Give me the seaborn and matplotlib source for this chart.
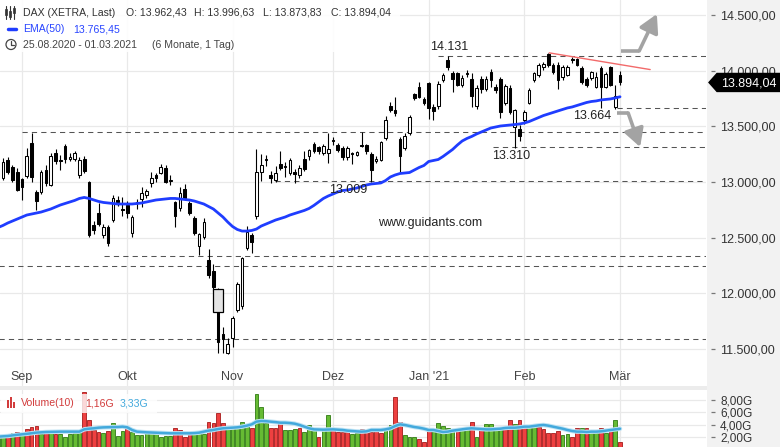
import numpy as np
import matplotlib
matplotlib.use("Agg")
import matplotlib.pyplot as plt
import matplotlib.patheffects as pe
import seaborn as sns
from matplotlib.patches import Rectangle, Polygon, Circle
from matplotlib.transforms import blended_transform_factory

# ---------------- data ----------------
opens = [13040, 13040, 13195, 13135, 13090, 13027, 13054, 13350, 12910, 12910,
         13110, 12973, 13260, 13200, 13323, 13205, 13207, 13063, 13207, 13000,
         12612, 12720, 12524, 12595, 12658, 12840, 12760, 12793, 12540, 12815,
         12850, 12880, 12991, 13063, 13081, 13126, 13010, 12820, 12770, 12935,
         12810, 12675, 12425, 12505, 12300, 12200, 12030, 11630, 11465, 11600,
         11850, 11886, 12410, 12524, 12694, 13090, 13200, 13063, 13018, 13165,
         13140, 13081, 13090, 13063, 13207, 13233, 13341, 13310, 13260, 13260,
         13377, 13332, 13305, 13224, 13260, 13242, 13330, 13332, 13251, 13190,
         13197, 13395, 13683, 13647, 13386, 13305, 13440, 13790, 13853, 13745,
         13890, 13675, 13683, 13916, 14096, 13980, 13980, 13871, 13980, 13925,
         13683, 13925, 13835, 13988, 13853, 13925, 13710, 13845, 13494, 13476,
         13557, 13710, 13916, 13961, 14033, 14150, 14051, 14051, 13940, 13961,
         14100, 14105, 14024, 13925, 13935, 13853, 14024, 13853, 14033, 13675,
         13962.43]
highs = [13150, 13215, 13225, 13152, 13130, 13040, 13305, 13440, 12930, 13110,
         13150, 13260, 13300, 13240, 13340, 13260, 13280, 13220, 13230, 13010,
         12650, 12810, 12620, 12610, 12880, 12870, 12865, 12830, 12700, 12845,
         12955, 12940, 13090, 13080, 13160, 13150, 13060, 12830, 12955, 12980,
         12830, 12690, 12540, 12680, 12400, 12260, 12045, 11700, 11600, 11800,
         12100, 12330, 12600, 12545, 13300, 13250, 13240, 13100, 13140, 13275,
         13180, 13215, 13120, 13150, 13280, 13300, 13360, 13325, 13340, 13440,
         13400, 13350, 13320, 13320, 13270, 13280, 13445, 13340, 13270, 13230,
         13370, 13593, 13720, 13765, 13400, 13440, 13600, 13800, 13900, 13760,
         13900, 13700, 13910, 13980, 14131, 14000, 13990, 13960, 14010, 13980,
         13870, 13950, 13950, 14015, 13880, 13945, 13880, 13870, 13660, 13510,
         13650, 13840, 13990, 14070, 14080, 14160, 14070, 14080, 14050, 14050,
         14125, 14110, 14040, 13940, 14000, 13990, 14040, 13985, 14045, 13870,
         13996.63]
lows = [13010, 13020, 13070, 13000, 12915, 12840, 13040, 13000, 12750, 12895,
        12960, 12960, 13160, 13110, 13170, 13190, 13190, 13040, 13080, 12505,
        12530, 12600, 12500, 12425, 12640, 12780, 12690, 12680, 12510, 12760,
        12775, 12860, 12955, 13000, 13070, 12990, 12970, 12595, 12740, 12840,
        12700, 12520, 12340, 12490, 12140, 12020, 11460, 11465, 11450, 11520,
        11830, 11860, 12390, 12362, 12670, 13010, 13140, 12990, 13000, 13110,
        13045, 13060, 12990, 13040, 13100, 13200, 13260, 13255, 13240, 13170,
        13330, 13270, 13200, 13200, 13160, 13230, 13310, 13250, 13000, 13170,
        13190, 13380, 13630, 13590, 13090, 13290, 13420, 13735, 13750, 13690,
        13565, 13557, 13660, 13900, 14010, 13810, 13860, 13850, 13940, 13675,
        13660, 13800, 13820, 13853, 13800, 13575, 13690, 13610, 13305, 13370,
        13520, 13700, 13900, 13940, 14010, 14030, 13970, 13835, 13920, 13950,
        14070, 14040, 13880, 13850, 13920, 13840, 13664, 13840, 13860, 13660,
        13873.83]
closes = [13120, 13180, 13090, 13018, 12930, 12955, 13233, 13045, 12830, 13090,
          12990, 13233, 13188, 13190, 13207, 13225, 13260, 13197, 13100, 12524,
          12568, 12620, 12595, 12452, 12856, 12820, 12750, 12721, 12685, 12820,
          12905, 12920, 13036, 13036, 13135, 13000, 13020, 12695, 12900, 12855,
          12720, 12540, 12530, 12640, 12165, 12060, 11560, 11590, 11545, 11780,
          12083, 12317, 12550, 12460, 13090, 13152, 13207, 13036, 13081, 13130,
          13135, 13197, 13072, 13126, 13117, 13287, 13278, 13280, 13323, 13295,
          13370, 13287, 13224, 13305, 13250, 13269, 13325, 13278, 13108, 13210,
          13359, 13557, 13647, 13620, 13233, 13413, 13584, 13755, 13764, 13710,
          13665, 13640, 13880, 13961, 14033, 13925, 13870, 13935, 13970, 13772,
          13845, 13835, 13925, 13916, 13826, 13630, 13860, 13630, 13647, 13413,
          13630, 13826, 13980, 14051, 14060, 14051, 13988, 13916, 14030, 14030,
          14095, 14051, 13898, 13870, 13990, 13940, 13853, 13970, 13871, 13772,
          13894.04]
ema50 = [12591, 12609, 12631, 12649, 12667, 12685, 12703, 12712, 12721, 12730,
         12744, 12757, 12775, 12793, 12807, 12820, 12834, 12852, 12861, 12852,
         12838, 12825, 12816, 12811, 12807, 12802, 12802, 12802, 12802, 12807,
         12811, 12820, 12829, 12838, 12843, 12847, 12852, 12852, 12847, 12843,
         12838, 12829, 12816, 12802, 12780, 12757, 12721, 12685, 12640, 12600,
         12573, 12559, 12559, 12564, 12577, 12604, 12622, 12640, 12658, 12672,
         12685, 12703, 12717, 12730, 12744, 12762, 12789, 12820, 12852, 12874,
         12892, 12910, 12923, 12928, 12937, 12946, 12959, 12973, 12982, 12986,
         12991, 13013, 13045, 13063, 13076, 13081, 13085, 13108, 13130, 13148,
         13184, 13193, 13202, 13229, 13260, 13292, 13332, 13368, 13391, 13409,
         13431, 13449, 13467, 13485, 13494, 13503, 13507, 13512, 13516, 13521,
         13530, 13543, 13561, 13579, 13597, 13611, 13624, 13638, 13651, 13665,
         13674, 13687, 13701, 13714, 13723, 13728, 13737, 13741, 13746, 13755,
         13765.45]
volume = [2.30, 2.32, 2.48, 2.69, 2.85, 2.59, 3.24, 3.56, 3.78, 2.43,
          3.13, 2.69, 2.43, 2.43, 1.94, 2.43, 2.59, 2.69, 9.24, 4.75,
          3.13, 2.85, 2.59, 2.97, 4.21, 2.16, 3.01, 3.66, 2.85, 2.32,
          2.32, 2.69, 2.69, 2.48, 2.04, 2.16, 2.16, 3.50, 3.13, 2.04,
          2.43, 2.59, 2.59, 2.48, 4.47, 4.31, 5.83, 4.31, 3.56, 3.50,
          3.66, 4.47, 4.05, 3.40, 8.96, 6.90, 4.31, 3.50, 3.50, 4.21,
          3.13, 3.13, 3.24, 3.50, 2.85, 3.94, 3.40, 2.04, 3.13, 5.56,
          3.40, 2.75, 2.85, 2.85, 2.43, 2.59, 3.24, 3.13, 2.85, 3.40,
          2.69, 3.24, 3.94, 8.53, 4.47, 2.32, 1.94, 1.94, 1.62, 1.23,
          3.40, 3.24, 4.21, 3.78, 3.40, 3.24, 3.13, 3.40, 3.50, 4.37,
          1.94, 3.50, 4.10, 4.10, 3.66, 3.56, 3.66, 4.75, 4.10, 4.75,
          3.94, 3.66, 3.78, 3.66, 3.24, 2.69, 2.59, 2.97, 2.32, 2.48,
          1.94, 3.40, 3.40, 3.40, 2.85, 2.59, 3.50, 2.69, 3.50, 4.75,
          1.16]
volume_up = [1, 1, 0, 1, 0, 1, 0, 0, 0, 1,
             0, 1, 0, 1, 1, 1, 1, 1, 0, 0,
             0, 0, 1, 0, 1, 1, 1, 0, 1, 1,
             1, 1, 1, 1, 1, 1, 1, 0, 0, 0,
             0, 1, 1, 1, 0, 0, 0, 0, 1, 1,
             1, 1, 1, 0, 1, 1, 1, 0, 0, 0,
             1, 1, 1, 0, 1, 1, 1, 0, 1, 1,
             0, 0, 0, 0, 1, 1, 0, 0, 0, 0,
             0, 1, 1, 0, 0, 1, 1, 1, 0, 0,
             0, 1, 1, 1, 1, 1, 0, 1, 1, 0,
             1, 0, 1, 1, 1, 1, 0, 0, 1, 0,
             0, 1, 1, 0, 0, 0, 0, 0, 1, 1,
             0, 0, 1, 0, 1, 1, 0, 1, 0, 1,
             0]
volume_ma10 = [2.05, 2.10, 2.15, 2.25, 2.35, 2.42, 2.50, 2.60, 2.70, 2.75,
               2.80, 2.82, 2.84, 2.86, 2.86, 2.86, 2.86, 2.86, 3.23, 3.34,
               3.40, 3.50, 3.55, 3.58, 3.60, 3.61, 3.67, 3.56, 3.13, 2.86,
               2.80, 2.75, 2.72, 2.69, 2.65, 2.62, 2.59, 2.59, 2.59, 2.59,
               2.59, 2.62, 2.69, 2.86, 3.02, 3.13, 3.29, 3.40, 3.45, 3.50,
               3.56, 3.67, 3.83, 4.04, 4.48, 4.59, 4.55, 4.48, 4.40, 4.31,
               4.31, 4.25, 4.15, 3.94, 3.67, 3.40, 3.23, 3.20, 3.18, 3.20,
               3.23, 3.18, 3.13, 3.02, 2.96, 2.90, 2.86, 2.91, 3.13, 3.13,
               3.13, 3.23, 3.40, 3.77, 4.04, 3.94, 3.77, 3.61, 3.50, 3.34,
               3.13, 3.13, 2.96, 2.80, 2.86, 3.02, 3.13, 3.23, 3.34, 3.40,
               3.34, 3.29, 3.23, 3.23, 3.29, 3.34, 3.45, 3.50, 3.50, 3.56,
               3.67, 3.67, 3.77, 3.88, 3.94, 3.83, 3.67, 3.50, 3.34, 3.13,
               2.96, 2.86, 2.86, 2.80, 2.86, 2.86, 2.91, 3.02, 3.13, 3.23,
               3.33]

month_labels = ["Sep", "Okt", "Nov", "Dez", "Jan '21", "Feb", "Mär"]
month_pos = [5, 27, 49, 70, 90, 110, 130]
price_ticks = [11500, 12000, 12500, 13000, 13500, 14000, 14500]
volume_ticks = [2, 4, 6, 8]

# horizontal support / resistance levels and the bar index they start at
level_values = [14131, 13664, 13445, 13310, 13009, 12335, 12245, 11589]
level_start = [92.0, 129.4, 5.0, 103.4, 57.9, 22.1, 0.0, 0.0]
# labelled levels: text, x index, vertical offset (points)
label_texts = ["14.131", "13.664", "13.310", "13.009"]
label_levels = [14131, 13664, 13310, 13009]
label_x = [94.3, 124.1, 107.2, 73.2]
label_dy = [6.5, -6.0, -6.0, -6.5]

# red trend line (index, price)
trend_x = [115.2, 136.3]
trend_y = [14160, 14010]
# gray scenario arrows (index, price)
up_arrow_x = [130.2, 134.0, 137.7]
up_arrow_y = [14177, 14177, 14509]
down_arrow_x = [129.4, 131.7, 134.2]
down_arrow_y = [13620, 13620, 13314]
# marked box around 28 Oct
box_x = [45.0, 47.1]
box_y = [11832, 12038]


def de(v, nd=2):
    s = f"{v:,.{nd}f}"
    return s.replace(",", "X").replace(".", ",").replace("X", ".")


# ---------------- figure ----------------
sns.set_theme(style="white")
plt.rcParams['font.family'] = ['Liberation Sans', 'DejaVu Sans']

W, H = 780, 447
fig = plt.figure(figsize=(7.8, 4.47), dpi=100)
fig.patch.set_facecolor('white')

# gray right price panel & separator band
fig.add_artist(Rectangle((707 / W, 0), 1 - 707 / W, 1, transform=fig.transFigure,
                         fc='#f2f2f2', ec='none', zorder=-5))
fig.add_artist(Rectangle((0, 1 - 390 / H), 707 / W, 4 / H, transform=fig.transFigure,
                         fc='#ececec', ec='none', zorder=-5))

ax = fig.add_axes([0, 1 - 386 / H, 706 / W, 386 / H])
axv = fig.add_axes([0, 0, 706 / W, 57 / H])

xlim = (0.397, 147.97)
idx = np.arange(len(closes))
o = np.array(opens); h = np.array(highs); l = np.array(lows); c = np.array(closes)

for a in (ax, axv):
    a.set_facecolor('white')
    a.set_xlim(*xlim)
    for s in a.spines.values():
        s.set_visible(False)
    a.spines['right'].set_position(('outward', 3.6))
    a.yaxis.tick_right()
    a.set_xticks(month_pos)
    a.tick_params(axis='x', length=0, labelbottom=False)
    a.tick_params(axis='y', which='major', right=True, length=3, width=0.9,
                  color='#777', pad=3.6, labelcolor='#333', labelsize=9)
    a.grid(True, color='#e9e9e9', lw=0.9, zorder=0)
    a.set_axisbelow(True)

ax.set_ylim(14635 - 8.985 * 386, 14635)
ax.set_yticks(price_ticks)
ax.set_yticklabels([de(v) for v in price_ticks])

# month labels
tr = blended_transform_factory(ax.transData, ax.transAxes)
for m, p in zip(month_labels, month_pos):
    ax.text(p, 0.0233, m, transform=tr, ha='center', va='center', fontsize=9,
            color='#444', zorder=6)

# dashed levels
for v, s in zip(level_values, level_start):
    ax.hlines(v, s, xlim[1], colors='#555555', linestyles=(0, (5, 4)), lw=0.75, zorder=1)

for t, v, x, dy in zip(label_texts, label_levels, label_x, label_dy):
    ax.annotate(t, xy=(x, v), xytext=(0, dy), textcoords='offset points', ha='center',
                va='center', fontsize=9, color='#222', zorder=7)

# candles
ax.vlines(idx, l, h, color='black', lw=0.8, zorder=3)
body_lo = np.minimum(o, c)
body_h = np.maximum(np.abs(c - o), 9)
fills = np.where(c >= o, 'white', 'black')
ax.bar(idx, body_h, bottom=body_lo, width=0.55, color=fills, edgecolor='black',
       linewidth=0.75, zorder=4)

# marked box
ax.add_patch(Rectangle((box_x[0], box_y[0]), box_x[1] - box_x[0], box_y[1] - box_y[0],
                       fc='#e4e4e4', ec='black', lw=0.9, zorder=4.5))

# EMA 50
sns.lineplot(x=idx, y=ema50, ax=ax, color='#1f3dff', lw=2.0, zorder=5, legend=False)

# red trend line
ax.plot(trend_x, trend_y, color='#f26a6a', lw=1.0, zorder=5)

# gray arrows
arrow_col = '#a3a3a3'
for xs, ys in ((up_arrow_x, up_arrow_y), (down_arrow_x, down_arrow_y)):
    ax.plot(xs[:2], ys[:2], color=arrow_col, lw=2.6, solid_capstyle='butt', zorder=5)
    ax.annotate('', xy=(xs[2], ys[2]), xytext=(xs[1], ys[1]),
                arrowprops=dict(arrowstyle='-|>,head_length=0.9,head_width=0.5',
                                color=arrow_col, lw=2.6, shrinkA=0, shrinkB=0), zorder=5)

# last price tag
trp = blended_transform_factory(ax.transAxes, ax.transData)
last = closes[-1]
hh = 9 * 8.985
tag = Polygon([(709 / 706, last), (717 / 706, last + hh), (780 / 706, last + hh),
               (780 / 706, last - hh), (717 / 706, last - hh)], closed=True,
              transform=trp, fc='black', ec='black', clip_on=False, zorder=20)
ax.add_patch(tag)
ax.text(721 / 706, last - 8, de(last), transform=trp, ha='left', va='center',
        color='white', fontsize=9, zorder=21, clip_on=False)

# watermark
ax.text(0.609, 1 - 223 / 386, "www.guidants.com", transform=ax.transAxes,
        ha='center', va='center', fontsize=9, color='#222', zorder=7)

# ---------------- volume panel ----------------
axv.set_ylim(0.37, 9.61)
axv.set_yticks(volume_ticks)
axv.set_yticklabels([de(v) + "G" for v in volume_ticks])
axv.tick_params(axis='y', labelsize=8.5)
vup = np.array(volume_up).astype(bool)
axv.bar(idx, volume, width=0.78, color=np.where(vup, '#66bb33', '#ee4040'),
        edgecolor=np.where(vup, '#2f7a12', '#a51a1a'), linewidth=0.6, zorder=2)
sns.lineplot(x=idx, y=volume_ma10, ax=axv, color='#43a9dc', lw=1.8, zorder=3, legend=False)
for ln in axv.get_lines():
    ln.set_path_effects([pe.Stroke(linewidth=3.2, foreground='#bfe3f4'), pe.Normal()])
axv.set_xlabel(''); axv.set_ylabel(''); ax.set_xlabel(''); ax.set_ylabel('')

# ---------------- overlay legends (pixel coords) ----------------
ov = fig.add_axes([0, 0, 1, 1], zorder=30)
ov.set_xlim(0, W); ov.set_ylim(H, 0); ov.axis('off')
ov.add_patch(Rectangle((0, 0), 400, 52, fc='white', ec='none', alpha=0.9))
# candle icon
for xx, b0, b1 in ((6, 9, 15), (10, 11, 17), (14, 8, 13)):
    ov.plot([xx, xx], [6, 19], color='#333', lw=0.8)
    ov.add_patch(Rectangle((xx - 1.3, b0), 2.6, b1 - b0, fc='#333', ec='#333', lw=0.5))
fs = 7.6
ov.text(23, 12.5, "DAX (XETRA, Last)", ha='left', va='center', fontsize=fs, color='#333')
for lab, val, xx in (("O", opens[-1], 126), ("H", highs[-1], 194),
                     ("L", lows[-1], 263), ("C", closes[-1], 331)):
    ov.text(xx, 12.5, "%s: %s" % (lab, de(val)), ha='left', va='center', fontsize=fs,
            color='#333')
ov.plot([8, 16], [29, 29], color='#1f3dff', lw=2.5)
ov.text(23, 29, "EMA(50)", ha='left', va='center', fontsize=fs, color='#2945ff')
ov.text(73, 29, de(ema50[-1]), ha='left', va='center', fontsize=fs, color='#2945ff')
ov.add_patch(Circle((11, 44.5), 5, fc='none', ec='#444', lw=0.9))
ov.plot([11, 11, 14], [41, 44.5, 44.5], color='#444', lw=0.9)
ov.text(23, 44.5, "25.08.2020 - 01.03.2021", ha='left', va='center',
        fontsize=fs, color='#444')
ov.text(152, 44.5, "(6 Monate, 1 Tag)", ha='left', va='center', fontsize=fs, color='#444')

# volume legend
ov.add_patch(Rectangle((1, 394), 156, 19, fc='white', ec='none', alpha=0.8))
for xx, top in ((7.5, 400), (10.5, 397), (13.5, 402)):
    ov.add_patch(Rectangle((xx - 1, top), 2, 408 - top, fc='#d23c3c', ec='none'))
ov.text(21, 403.5, "Volume(10)", ha='left', va='center', fontsize=fs, color='#d23c3c')
ov.text(85, 403.5, de(volume[-1]) + "G", ha='left', va='center', fontsize=fs,
        color='#d23c3c')
ov.text(120, 403.5, de(volume_ma10[-1]) + "G", ha='left', va='center', fontsize=fs,
        color='#43a9dc')

fig.savefig("out.png", dpi=100, facecolor=fig.get_facecolor())
